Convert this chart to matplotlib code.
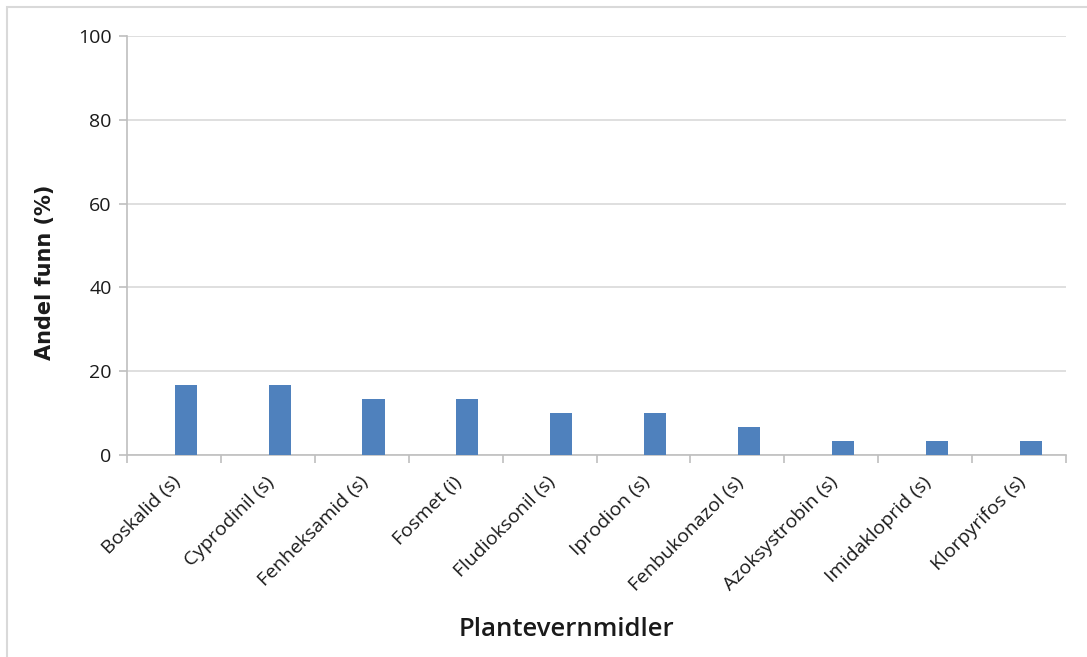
import matplotlib
matplotlib.use("Agg")
import matplotlib.pyplot as plt
import matplotlib.transforms as mtransforms
import numpy as np
from matplotlib.patches import Rectangle

categories = ["Boskalid (s)", "Cyprodinil (s)", "Fenheksamid (s)", "Fosmet (i)",
              "Fludioksonil (s)", "Iprodion (s)", "Fenbukonazol (s)",
              "Azoksystrobin (s)", "Imidakloprid (s)", "Klorpyrifos (s)"]
andel_funn = [16.7, 16.7, 13.3, 13.3, 10.0, 10.0, 6.7, 3.3, 3.3, 3.3]
y_ticks = [0, 20, 40, 60, 80, 100]

plt.rcParams["font.family"] = ["Open Sans", "DejaVu Sans"]

W, H = 1087, 657
fig = plt.figure(figsize=(W / 100, H / 100), dpi=100)
fig.patch.set_facecolor("white")

# light outer frame of the chart area
fig.patches.append(Rectangle((7 / W, -0.05), 1.1, (H - 7) / H + 0.05,
                             transform=fig.transFigure, fill=False,
                             edgecolor="#d9d9d9", linewidth=1.5))

left, right, top, bottom = 127, 1066, 36, 455
ax = fig.add_axes([left / W, 1 - bottom / H, (right - left) / W, (bottom - top) / H])

x = np.arange(len(categories))
# the series sits right of centre in each category slot
ax.bar(x + 0.125, andel_funn, width=0.235, color="#4f81bd", zorder=3)

ax.set_xlim(-0.5, len(categories) - 0.5)
ax.set_ylim(0, 100)
ax.set_yticks(y_ticks)
ax.set_yticklabels([str(v) for v in y_ticks], fontsize=14, color="#1a1a1a")
ax.yaxis.grid(True, color="#d9d9d9", linewidth=1.2, zorder=0)

ax.set_xticks(x)
ax.set_xticklabels(categories, rotation=45, ha="right", rotation_mode="anchor",
                   fontsize=14, color="#1a1a1a")
ax.tick_params(axis="x", length=0, pad=13)
shift = mtransforms.ScaledTranslation(-3 / 100, 0, fig.dpi_scale_trans)
for lbl in ax.get_xticklabels():
    lbl.set_transform(lbl.get_transform() + shift)
# category separators below the x axis
ax.set_xticks(np.arange(len(categories) + 1) - 0.5, minor=True)
ax.tick_params(axis="x", which="minor", length=6, color="#bfbfbf", width=1.2)
ax.tick_params(axis="y", length=6, color="#bfbfbf", width=1.2, pad=5)

for s in ["top", "right"]:
    ax.spines[s].set_visible(False)
for s in ["left", "bottom"]:
    ax.spines[s].set_color("#bfbfbf")
    ax.spines[s].set_linewidth(1.2)

fig.text(45 / W, 1 - 272 / H, "Andel funn (%)", rotation=90, ha="center",
         va="center", fontsize=15, fontweight="bold", color="#1a1a1a",
         family=["DejaVu Sans"])
fig.text(566 / W, 1 - 630 / H, "Plantevernmidler", ha="center", va="center",
         fontsize=18.5, fontweight="semibold", color="#1a1a1a",
         family=["Open Sans", "DejaVu Sans"])

fig.savefig("out.png", dpi=100, facecolor="white")
